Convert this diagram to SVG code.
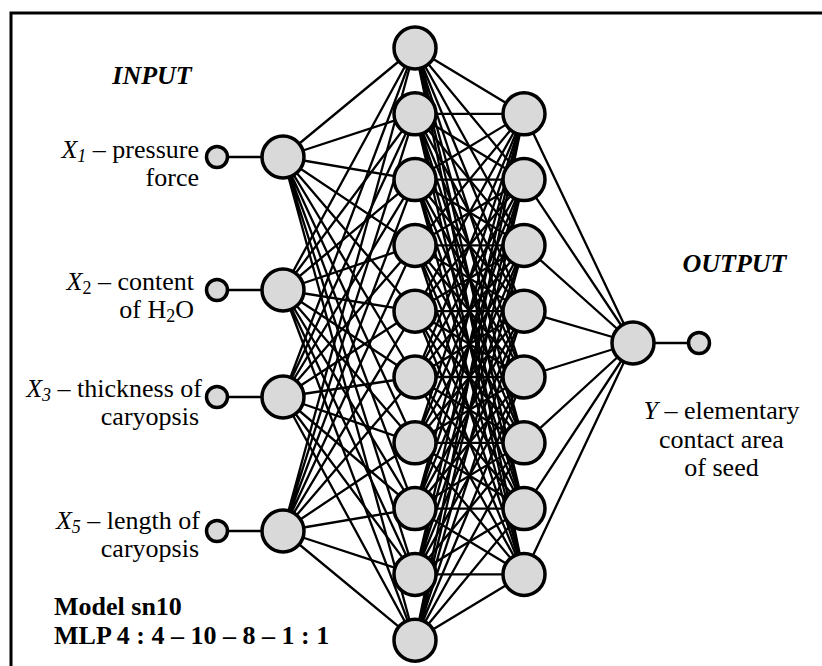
<svg xmlns="http://www.w3.org/2000/svg" width="822" height="666" viewBox="0 0 822 666">
<style>
.t{font-family:"Liberation Serif","Times New Roman",serif;font-size:26px;fill:#000}
.b{font-weight:bold}
.i{font-style:italic}
.s{font-size:18px;baseline-shift:-4px}
.n{fill:#d9d9d9;stroke:#000;stroke-width:3.5}
.c path{fill:none;stroke:#000;stroke-width:2.3}
</style>
<rect x="11" y="13" width="830" height="680" fill="#fff" stroke="#000" stroke-width="3"/>
<g class="c" id="connectors">
<path d="M217,157H283M217,290H283M217,397H283M217,531H283"/>
<path d="M283,157L415,48M283,157L415,113.8M283,157L415,179.6M283,157L415,245.4M283,157L415,311.2M283,157L415,377M283,157L415,442.8M283,157L415,508.6M283,157L415,574.4M283,157L415,640.2"/>
<path d="M283,290L415,48M283,290L415,113.8M283,290L415,179.6M283,290L415,245.4M283,290L415,311.2M283,290L415,377M283,290L415,442.8M283,290L415,508.6M283,290L415,574.4M283,290L415,640.2"/>
<path d="M283,397L415,48M283,397L415,113.8M283,397L415,179.6M283,397L415,245.4M283,397L415,311.2M283,397L415,377M283,397L415,442.8M283,397L415,508.6M283,397L415,574.4M283,397L415,640.2"/>
<path d="M283,531L415,48M283,531L415,113.8M283,531L415,179.6M283,531L415,245.4M283,531L415,311.2M283,531L415,377M283,531L415,442.8M283,531L415,508.6M283,531L415,574.4M283,531L415,640.2"/>
<path d="M415,48L524,113.8M415,48L524,179.6M415,48L524,245.4M415,48L524,311.2M415,48L524,377M415,48L524,442.8M415,48L524,508.6M415,48L524,574.4"/>
<path d="M415,113.8L524,113.8M415,113.8L524,179.6M415,113.8L524,245.4M415,113.8L524,311.2M415,113.8L524,377M415,113.8L524,442.8M415,113.8L524,508.6M415,113.8L524,574.4"/>
<path d="M415,179.6L524,113.8M415,179.6L524,179.6M415,179.6L524,245.4M415,179.6L524,311.2M415,179.6L524,377M415,179.6L524,442.8M415,179.6L524,508.6M415,179.6L524,574.4"/>
<path d="M415,245.4L524,113.8M415,245.4L524,179.6M415,245.4L524,245.4M415,245.4L524,311.2M415,245.4L524,377M415,245.4L524,442.8M415,245.4L524,508.6M415,245.4L524,574.4"/>
<path d="M415,311.2L524,113.8M415,311.2L524,179.6M415,311.2L524,245.4M415,311.2L524,311.2M415,311.2L524,377M415,311.2L524,442.8M415,311.2L524,508.6M415,311.2L524,574.4"/>
<path d="M415,377L524,113.8M415,377L524,179.6M415,377L524,245.4M415,377L524,311.2M415,377L524,377M415,377L524,442.8M415,377L524,508.6M415,377L524,574.4"/>
<path d="M415,442.8L524,113.8M415,442.8L524,179.6M415,442.8L524,245.4M415,442.8L524,311.2M415,442.8L524,377M415,442.8L524,442.8M415,442.8L524,508.6M415,442.8L524,574.4"/>
<path d="M415,508.6L524,113.8M415,508.6L524,179.6M415,508.6L524,245.4M415,508.6L524,311.2M415,508.6L524,377M415,508.6L524,442.8M415,508.6L524,508.6M415,508.6L524,574.4"/>
<path d="M415,574.4L524,113.8M415,574.4L524,179.6M415,574.4L524,245.4M415,574.4L524,311.2M415,574.4L524,377M415,574.4L524,442.8M415,574.4L524,508.6M415,574.4L524,574.4"/>
<path d="M415,640.2L524,113.8M415,640.2L524,179.6M415,640.2L524,245.4M415,640.2L524,311.2M415,640.2L524,377M415,640.2L524,442.8M415,640.2L524,508.6M415,640.2L524,574.4"/>
<path d="M524,113.8L633,343M524,179.6L633,343M524,245.4L633,343M524,311.2L633,343M524,377L633,343M524,442.8L633,343M524,508.6L633,343M524,574.4L633,343"/>
<path d="M633,343H699"/>
</g>
<g id="in-terminals">
<circle class="n" cx="217" cy="157" r="10.5"/>
<circle class="n" cx="217" cy="290" r="10.5"/>
<circle class="n" cx="217" cy="397" r="10.5"/>
<circle class="n" cx="217" cy="531" r="10.5"/>
</g>
<g id="input-layer">
<circle id="i1" class="n" cx="283" cy="157" r="21"/>
<circle id="i2" class="n" cx="283" cy="290" r="21"/>
<circle id="i3" class="n" cx="283" cy="397" r="21"/>
<circle id="i4" class="n" cx="283" cy="531" r="21"/>
</g>
<g id="hidden1">
<circle class="n" cx="415" cy="48" r="21"/>
<circle class="n" cx="415" cy="113.8" r="21"/>
<circle class="n" cx="415" cy="179.6" r="21"/>
<circle class="n" cx="415" cy="245.4" r="21"/>
<circle class="n" cx="415" cy="311.2" r="21"/>
<circle class="n" cx="415" cy="377" r="21"/>
<circle class="n" cx="415" cy="442.8" r="21"/>
<circle class="n" cx="415" cy="508.6" r="21"/>
<circle class="n" cx="415" cy="574.4" r="21"/>
<circle class="n" cx="415" cy="640.2" r="21"/>
</g>
<g id="hidden2">
<circle class="n" cx="524" cy="113.8" r="21"/>
<circle class="n" cx="524" cy="179.6" r="21"/>
<circle class="n" cx="524" cy="245.4" r="21"/>
<circle class="n" cx="524" cy="311.2" r="21"/>
<circle class="n" cx="524" cy="377" r="21"/>
<circle class="n" cx="524" cy="442.8" r="21"/>
<circle class="n" cx="524" cy="508.6" r="21"/>
<circle class="n" cx="524" cy="574.4" r="21"/>
</g>
<g id="output-layer">
<circle class="n" cx="633" cy="343" r="21"/>
<circle class="n" cx="699" cy="343" r="10.5"/>
</g>
<g id="labels" class="t">
<text x="152" y="84" text-anchor="middle" class="b i">INPUT</text>
<text x="199" y="158" text-anchor="end"><tspan class="i">X</tspan><tspan class="i s">1</tspan> – pressure</text>
<text x="199" y="186" text-anchor="end">force</text>
<text x="194" y="290" text-anchor="end"><tspan class="i">X</tspan><tspan class="s">2</tspan> – content</text>
<text x="194" y="318" text-anchor="end">of H<tspan class="s">2</tspan>O</text>
<text x="202" y="397" text-anchor="end"><tspan class="i">X</tspan><tspan class="i s">3</tspan> – thickness of</text>
<text x="199" y="425" text-anchor="end">caryopsis</text>
<text x="200" y="529" text-anchor="end"><tspan class="i">X</tspan><tspan class="i s">5</tspan> – length of</text>
<text x="199" y="557" text-anchor="end">caryopsis</text>
<text x="54" y="615" class="b">Model sn10</text>
<text x="54" y="644" class="b">MLP 4 : 4 – 10 – 8 – 1 : 1</text>
<text x="734.5" y="272" text-anchor="middle" class="b i">OUTPUT</text>
<text x="721.5" y="419" text-anchor="middle"><tspan class="i">Y</tspan> – elementary</text>
<text x="721.5" y="448" text-anchor="middle">contact area</text>
<text x="721.5" y="476" text-anchor="middle">of seed</text>
</g>
</svg>
